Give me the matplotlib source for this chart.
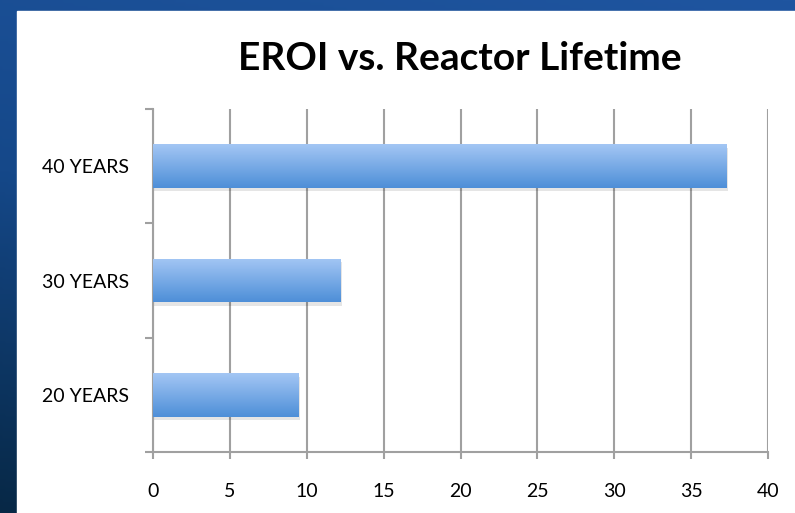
import numpy as np
import matplotlib
matplotlib.use('Agg')
import matplotlib.pyplot as plt
from matplotlib.patches import Rectangle

# Datos del gráfico
categorias = ['20 YEARS', '30 YEARS', '40 YEARS']
eroi = [9.45, 12.2, 37.3]
marcas_x = [0, 5, 10, 15, 20, 25, 30, 35, 40]

plt.rcParams['font.family'] = ['Lato', 'DejaVu Sans']

fig = plt.figure(figsize=(7.95, 5.13), dpi=100)

# Fondo azul tipo diapositiva
fondo = fig.add_axes([0, 0, 1, 1])
yy, xx = np.mgrid[0:1:200j, 0:1:300j]
grad = 0.6 * yy + 0.2 * (1 - xx)
cmap_fondo = matplotlib.colors.LinearSegmentedColormap.from_list('f', ['#1f55a0', '#154889', '#072846'])
fondo.imshow(grad, cmap=cmap_fondo, aspect='auto', extent=[0, 1, 0, 1], origin='upper')
fondo.add_patch(Rectangle((17 / 795, 0), 1, 1 - 11 / 513, color='white', transform=fondo.transAxes))
fondo.axis('off')

ax = fig.add_axes([153 / 795, 61 / 513, 615 / 795, 343 / 513])
ax.set_facecolor('none')
pos = np.arange(len(categorias))
alto = 0.38

# Sombra de las barras
for p, v in zip(pos, eroi):
    ax.barh(p - 0.03, v + 0.12, height=alto, color='#000000', alpha=0.10, zorder=2)
barras = ax.barh(pos, eroi, height=alto, color='#6fa3e6', zorder=3)

# Degradado dentro de cada barra
degr = np.linspace(0, 1, 64).reshape(-1, 1)
cmap_barra = matplotlib.colors.LinearSegmentedColormap.from_list('b', ['#a3c6f4', '#4e8fd8'])
for b in barras:
    x0, y0 = b.get_x(), b.get_y()
    im = ax.imshow(degr, cmap=cmap_barra, aspect='auto', origin='upper',
                   extent=[x0, x0 + b.get_width(), y0, y0 + b.get_height()], zorder=4)
    im.set_clip_path(b)

ax.set_xlim(0, 40)
ax.set_ylim(-0.5, 2.5)
ax.set_xticks(marcas_x)
ax.set_xticklabels([str(m) for m in marcas_x])
ax.set_yticks(pos)
ax.set_yticklabels(categorias)
ax.set_yticks([-0.5, 0.5, 1.5, 2.5], minor=True)
ax.tick_params(axis='y', which='major', length=0, pad=17, labelsize=14)
ax.tick_params(axis='y', which='minor', length=6, width=1.5, color='#a0a0a0', direction='out')
ax.tick_params(axis='x', length=5, width=1.5, color='#a0a0a0', pad=17, labelsize=14)
ax.grid(axis='x', color='#a0a0a0', linewidth=1.5, zorder=1)
ax.set_axisbelow(True)
for lado in ['top', 'right']:
    ax.spines[lado].set_visible(False)
for lado in ['left', 'bottom']:
    ax.spines[lado].set_color('#a0a0a0')
    ax.spines[lado].set_linewidth(1.5)

fig.text(460 / 795, 1 - 58 / 513, 'EROI vs. Reactor Lifetime', ha='center', va='center',
         fontsize=28, fontweight='bold', color='black')

fig.savefig('out.png', dpi=100)
